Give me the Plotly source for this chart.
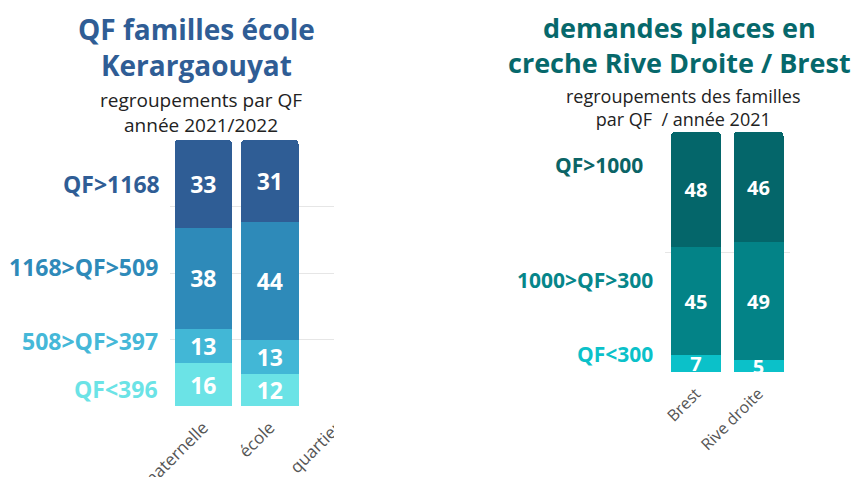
import plotly.graph_objects as go

# ---------------- data ----------------
left_categories = ["maternelle", "école", "quartier"]
left_series_names = ["QF<396", "508>QF>397", "1168>QF>509", "QF>1168"]  # bottom -> top
left_qf_lt396 = [16, 12, None]
left_qf_397_508 = [13, 13, None]
left_qf_509_1168 = [38, 44, None]
left_qf_gt1168 = [33, 31, None]

right_categories = ["Brest", "Rive droite"]
right_series_names = ["QF<300", "1000>QF>300", "QF>1000"]  # bottom -> top
right_qf_lt300 = [7, 5]
right_qf_300_1000 = [45, 49]
right_qf_gt1000 = [48, 46]

left_title = "QF familles école<br>Kerargaouyat"
left_subtitle = "regroupements par QF<br>année 2021/2022"
right_title = "demandes places en<br>creche Rive Droite / Brest"
right_subtitle = "regroupements des familles<br>par QF\u00a0 / année 2021"

# ---------------- styling ----------------
W, H = 861, 477
OFF = 8  # page offset of the figure inside the browser window
FONT = "Open Sans"


def px(x):
    return (x - OFF) / W


def py(y):
    return 1 - (y - OFF) / H


left_colors = ["#6BE3E6", "#42B7D6", "#2E8AB9", "#2F5D95"]
right_colors = ["#0BC1C9", "#038387", "#04666A"]
left_label_colors = ["#6BE3E6", "#45B8D8", "#2E8AB9", "#2F5D95"]
right_label_colors = ["#0BC1C9", "#06868A", "#0B6466"]

fig = go.Figure()

left_values = [left_qf_lt396, left_qf_397_508, left_qf_509_1168, left_qf_gt1168]
for name, vals, col in zip(left_series_names, left_values, left_colors):
    fig.add_trace(go.Bar(
        x=left_categories, y=vals, name=name, width=0.86,
        marker=dict(color=col, line=dict(width=0)),
        texttemplate="%{y}", textposition="inside", insidetextanchor="middle",
        constraintext="none", textangle=0,
        textfont=dict(color="white", size=23, family=FONT, weight="bold"),
        xaxis="x", yaxis="y", showlegend=False, hoverinfo="skip"))

right_values = [right_qf_lt300, right_qf_300_1000, right_qf_gt1000]
for name, vals, col in zip(right_series_names, right_values, right_colors):
    fig.add_trace(go.Bar(
        x=right_categories, y=vals, name=name, width=0.8,
        marker=dict(color=col, line=dict(width=0)),
        texttemplate="%{y}", textposition="inside", insidetextanchor="middle",
        constraintext="none", textangle=0,
        textfont=dict(color="white", size=20, family=FONT, weight="bold"),
        xaxis="x2", yaxis="y2", showlegend=False, hoverinfo="skip"))

annotations = [
    dict(text="<b>" + left_title + "</b>", x=px(196), y=py(46.5), xref="paper", yref="paper",
         xanchor="center", yanchor="middle", showarrow=False,
         font=dict(family=FONT, size=28, color="#2F5D95")),
    dict(text="<b>" + right_title + "</b>", x=px(679), y=py(45.2), xref="paper", yref="paper",
         xanchor="center", yanchor="middle", showarrow=False,
         font=dict(family=FONT, size=27, color="#06686B")),
    dict(text=left_subtitle, x=px(201), y=py(113), xref="paper", yref="paper",
         xanchor="center", yanchor="middle", showarrow=False,
         font=dict(family=FONT, size=19, color="#222222")),
    dict(text=right_subtitle, x=px(683), y=py(107.5), xref="paper", yref="paper",
         xanchor="center", yanchor="middle", showarrow=False,
         font=dict(family=FONT, size=18, color="#222222")),
]

left_label_pos = [(160, 389), (160, 341), (160, 267), (162, 184)]
for name, col, (lx, ly) in zip(left_series_names, left_label_colors, left_label_pos):
    annotations.append(dict(text="<b>" + name + "</b>", x=px(lx), y=py(ly), xref="paper", yref="paper",
                            xanchor="right", yanchor="middle", showarrow=False,
                            font=dict(family=FONT, size=23, color=col)))

right_label_pos = [(655, 354), (655, 280), (645, 165)]
for name, col, (lx, ly) in zip(right_series_names, right_label_colors, right_label_pos):
    annotations.append(dict(text="<b>" + name + "</b>", x=px(lx), y=py(ly), xref="paper", yref="paper",
                            xanchor="right", yanchor="middle", showarrow=False,
                            font=dict(family=FONT, size=21, color=col)))

fig.update_layout(
    width=W, height=H,
    margin=dict(l=0, r=0, t=0, b=0, autoexpand=False),
    paper_bgcolor="white", plot_bgcolor="white",
    barmode="stack", barcornerradius=4,
    annotations=annotations,
    xaxis=dict(domain=[px(170), px(369.75)], range=[-0.5, 2.5], anchor="y",
               showgrid=False, zeroline=False, showline=False,
               ticks="outside", ticklen=4, tickcolor="rgba(0,0,0,0)", automargin=False,
               tickangle=-45, tickfont=dict(family=FONT, size=17, color="#555555"),
               fixedrange=True),
    yaxis=dict(domain=[py(406), py(140)], range=[0, 100], anchor="x", dtick=25,
               showgrid=True, gridcolor="#E6E6E6", zeroline=False, showticklabels=False,
               automargin=False, fixedrange=True),
    xaxis2=dict(domain=[px(664.75), px(789.75)], range=[-0.5, 1.5], anchor="y2",
                showgrid=False, zeroline=False, showline=False,
                ticks="outside", ticklen=5, tickcolor="rgba(0,0,0,0)", automargin=False,
                tickangle=-45, tickfont=dict(family=FONT, size=16, color="#555555"),
                fixedrange=True),
    yaxis2=dict(domain=[py(372), py(132)], range=[0, 100], anchor="x2", dtick=50,
                showgrid=True, gridcolor="#E6E6E6", zeroline=False, showticklabels=False,
                automargin=False, fixedrange=True),
    shapes=[dict(type="rect", xref="paper", yref="paper", layer="above",
                 x0=px(334), x1=px(392), y0=0, y1=py(136),
                 fillcolor="white", line=dict(width=0))],
)

fig.write_html("out.html")
